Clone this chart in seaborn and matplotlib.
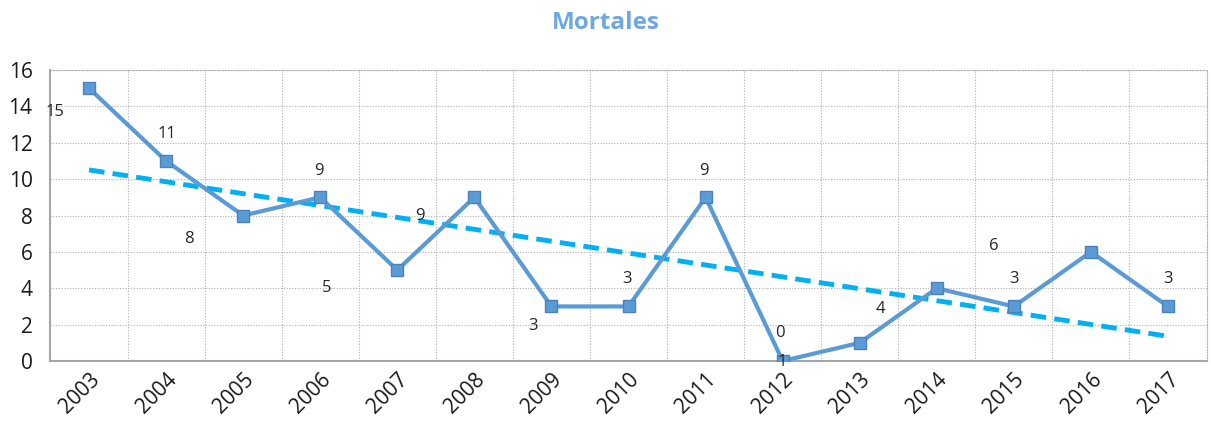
import numpy as np
import pandas as pd
import matplotlib
matplotlib.use("Agg")
import matplotlib.pyplot as plt
import seaborn as sns
from matplotlib.ticker import MultipleLocator

# data
years = ["2003", "2004", "2005", "2006", "2007", "2008", "2009", "2010",
         "2011", "2012", "2013", "2014", "2015", "2016", "2017"]
mortales = [15, 11, 8, 9, 5, 9, 3, 3, 9, 0, 1, 4, 3, 6, 3]

# where each value label sits relative to its point (pixels, x right / y up)
label_dx = [-34, 1, -54, -1, -71, -54, -18, -2, -2, -3, -77, -56, 0, -97, 0]
label_dy = [-24, 27, -23, 26, -18, -19, -20, 27, 26, 28, -19, -21, 27, 6, 27]

df = pd.DataFrame({"idx": np.arange(len(years)), "year": years, "value": mortales})

sns.set_style("white")
plt.rcParams["font.family"] = ["Open Sans", "DejaVu Sans"]

fig = plt.figure(figsize=(12.11, 4.25), dpi=100)
ax = fig.add_axes([0.0417, 0.1506, 0.9546, 0.6846])

line_color = "#5b9bd5"
sns.lineplot(data=df, x="idx", y="value", ax=ax, color=line_color, lw=3,
             marker="s", markersize=9, markerfacecolor=line_color,
             markeredgecolor="#4a82bd", markeredgewidth=1, zorder=4)

# linear trend
sns.regplot(data=df, x="idx", y="value", ax=ax, scatter=False, ci=None,
            color="#00b0f0",
            line_kws=dict(lw=3.5, linestyle=(0, (3.2, 1.7)), zorder=3))

px2pt = 0.72
for i, v in enumerate(mortales):
    t = ax.annotate(str(v), (i, v), xytext=(label_dx[i] * px2pt, label_dy[i] * px2pt),
                    textcoords="offset points", ha="center", va="center",
                    fontsize=12, color="#262626", annotation_clip=False)
    t.set_zorder(10)

ax.set_xlim(-0.5, len(years) - 0.5)
ax.set_ylim(0, 16)
ax.yaxis.set_major_locator(MultipleLocator(2))
ax.set_xticks(range(len(years)))
ax.set_xticklabels(years, rotation=45, ha="right", rotation_mode="anchor")
ax.set_xticks(np.arange(0.5, len(years) - 0.5), minor=True)
ax.tick_params(axis="both", which="both", length=0, labelsize=15, colors="#1a1a1a")
ax.tick_params(axis="x", pad=6)
ax.tick_params(axis="y", pad=13)
ax.set_xlabel("")
ax.set_ylabel("")

ax.grid(False)
ax.yaxis.grid(True, which="major", color="#b0b0b0", linestyle=(0, (1, 1.5)), lw=0.8)
ax.xaxis.grid(True, which="minor", color="#b0b0b0", linestyle=(0, (1, 1.5)), lw=0.8)

for side in ["top", "right"]:
    ax.spines[side].set_visible(True)
    ax.spines[side].set_color("#b0b0b0")
    ax.spines[side].set_linestyle((0, (1, 1.5)))
    ax.spines[side].set_linewidth(0.8)
for side in ["left", "bottom"]:
    ax.spines[side].set_color("#a6a6a6")
    ax.spines[side].set_linewidth(1.5)

fig.suptitle("Mortales", x=0.5, y=0.975, fontsize=17.5, fontweight="bold",
             color="#6fa8e0")

fig.savefig("out.png", dpi=100)
